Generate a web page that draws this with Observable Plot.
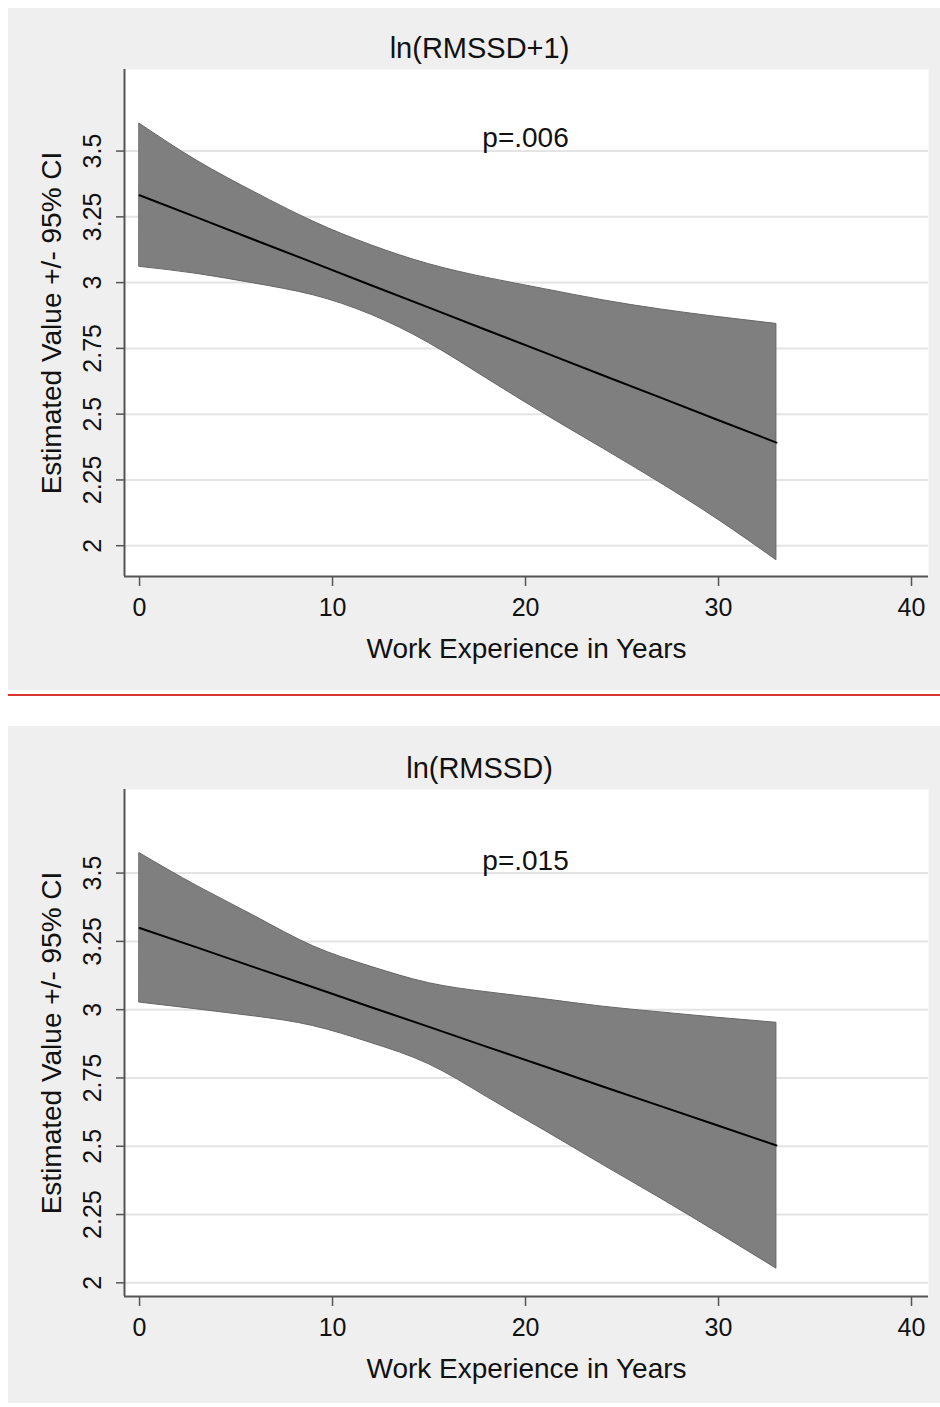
<!DOCTYPE html>
<html>
<head>
<meta charset="utf-8">
<script src="https://cdn.jsdelivr.net/npm/d3@7"></script>
<script src="https://cdn.jsdelivr.net/npm/@observablehq/plot@0.6"></script>
<style>
  html, body { margin: 0; padding: 0; background: #ffffff; }
  .panel { position: absolute; left: 8px; width: 932px; background: #efefef; }
  #sep { position: absolute; left: 8px; top: 694px; width: 932px; height: 2px; background: #d8352f; }
</style>
</head>
<body>
<div id="p1" class="panel" style="top:8px;height:682px;"></div>
<div id="sep"></div>
<div id="p2" class="panel" style="top:726px;height:677px;"></div>
<script>
// ---- data ----
const years = [0, 3, 6, 9, 12, 15, 18, 21, 24, 27, 30, 33];

const topTitle = "ln(RMSSD+1)";
const topP = "p=.006";
const topUpper = [3.604, 3.462, 3.342, 3.232, 3.142, 3.070, 3.018, 2.975, 2.933, 2.898, 2.869, 2.843];
const topFit   = [3.332, 3.247, 3.161, 3.076, 2.990, 2.905, 2.819, 2.734, 2.648, 2.563, 2.477, 2.392];
const topLower = [3.060, 3.033, 2.996, 2.952, 2.878, 2.770, 2.635, 2.500, 2.370, 2.238, 2.098, 1.945];

const botTitle = "ln(RMSSD)";
const botP = "p=.015";
const botUpper = [3.573, 3.452, 3.341, 3.232, 3.157, 3.097, 3.064, 3.038, 3.011, 2.990, 2.970, 2.952];
const botFit   = [3.299, 3.227, 3.154, 3.082, 3.009, 2.937, 2.864, 2.792, 2.719, 2.647, 2.575, 2.503];
const botLower = [3.026, 3.001, 2.975, 2.940, 2.878, 2.800, 2.680, 2.557, 2.432, 2.309, 2.182, 2.052];

const xTicks = [0, 10, 20, 30, 40];
const yTicks = [2, 2.25, 2.5, 2.75, 3, 3.25, 3.5];
const yTickLabels = ["2", "2.25", "2.5", "2.75", "3", "3.25", "3.5"];
const xTitle = "Work Experience in Years";
const yTitle = "Estimated Value +/- 95% CI";
const pYear = 20;

// ---- drawing ----
const FONT = "'Liberation Sans', Arial, Helvetica, sans-serif";
const INK = "#111111";

function panel(el, cfg) {
  const rows = years.map((yr, i) => ({year: yr, hi: cfg.upper[i], lo: cfg.lower[i], fit: cfg.fit[i]}));
  const xDomain = [-0.78, 40.88];
  const chart = Plot.plot({
    width: 932,
    height: cfg.height,
    marginLeft: 116,
    marginRight: 12,
    marginTop: cfg.marginTop,
    marginBottom: cfg.height - cfg.marginTop - 507,
    style: {background: "#efefef", fontFamily: FONT, fontSize: "24px", color: INK, overflow: "visible"},
    x: {domain: xDomain},
    y: {domain: cfg.yDomain},
    marks: [
      Plot.frame({fill: "white", stroke: null}),
      Plot.gridY(yTicks, {stroke: "#e4e4e4", strokeOpacity: 1, strokeWidth: 2}),
      Plot.areaY(rows, {x: "year", y1: "lo", y2: "hi", fill: "#7f7f7f", stroke: "#666666", strokeWidth: 1, curve: "natural"}),
      Plot.line(rows, {x: "year", y: "fit", stroke: "#000000", strokeWidth: 2}),
      Plot.ruleX([xDomain[0]], {stroke: "#555555", strokeWidth: 2}),
      Plot.ruleY([cfg.yDomain[0]], {stroke: "#555555", strokeWidth: 2}),
      Plot.axisX({ticks: xTicks, tickSize: 10, tickPadding: 12, label: null, stroke: "#555555", strokeWidth: 1.5, fontSize: 25, fill: INK}),
      Plot.axisY({ticks: yTicks, tickSize: 8, tickFormat: () => "", label: null, stroke: "#555555", strokeWidth: 1.5}),
      Plot.text(yTicks, {y: d => d, text: (d, i) => yTickLabels[i], frameAnchor: "left", textAnchor: "middle", lineAnchor: "middle", dx: -32, rotate: -90, fontSize: 25, fill: INK}),
      Plot.text([yTitle], {frameAnchor: "left", textAnchor: "middle", lineAnchor: "middle", dx: -72, rotate: -90, fontSize: 28, fill: INK}),
      Plot.text([xTitle], {frameAnchor: "bottom", lineAnchor: "middle", dy: 73, fontSize: 28, fill: INK}),
      Plot.text([cfg.title], {frameAnchor: "top", lineAnchor: "middle", dx: -47, dy: -21, fontSize: 29, fill: INK}),
      Plot.text([cfg.p], {x: () => pYear, frameAnchor: "top", lineAnchor: "middle", dy: cfg.pDy, fontSize: 28, fill: INK})
    ]
  });
  el.appendChild(chart);
}

panel(document.getElementById("p1"), {
  title: topTitle, p: topP, upper: topUpper, fit: topFit, lower: topLower,
  yDomain: [1.883, 3.81], height: 682, marginTop: 61, pDy: 69
});
panel(document.getElementById("p2"), {
  title: botTitle, p: botP, upper: botUpper, fit: botFit, lower: botLower,
  yDomain: [1.950, 3.806], height: 677, marginTop: 63, pDy: 72
});
</script>
</body>
</html>
